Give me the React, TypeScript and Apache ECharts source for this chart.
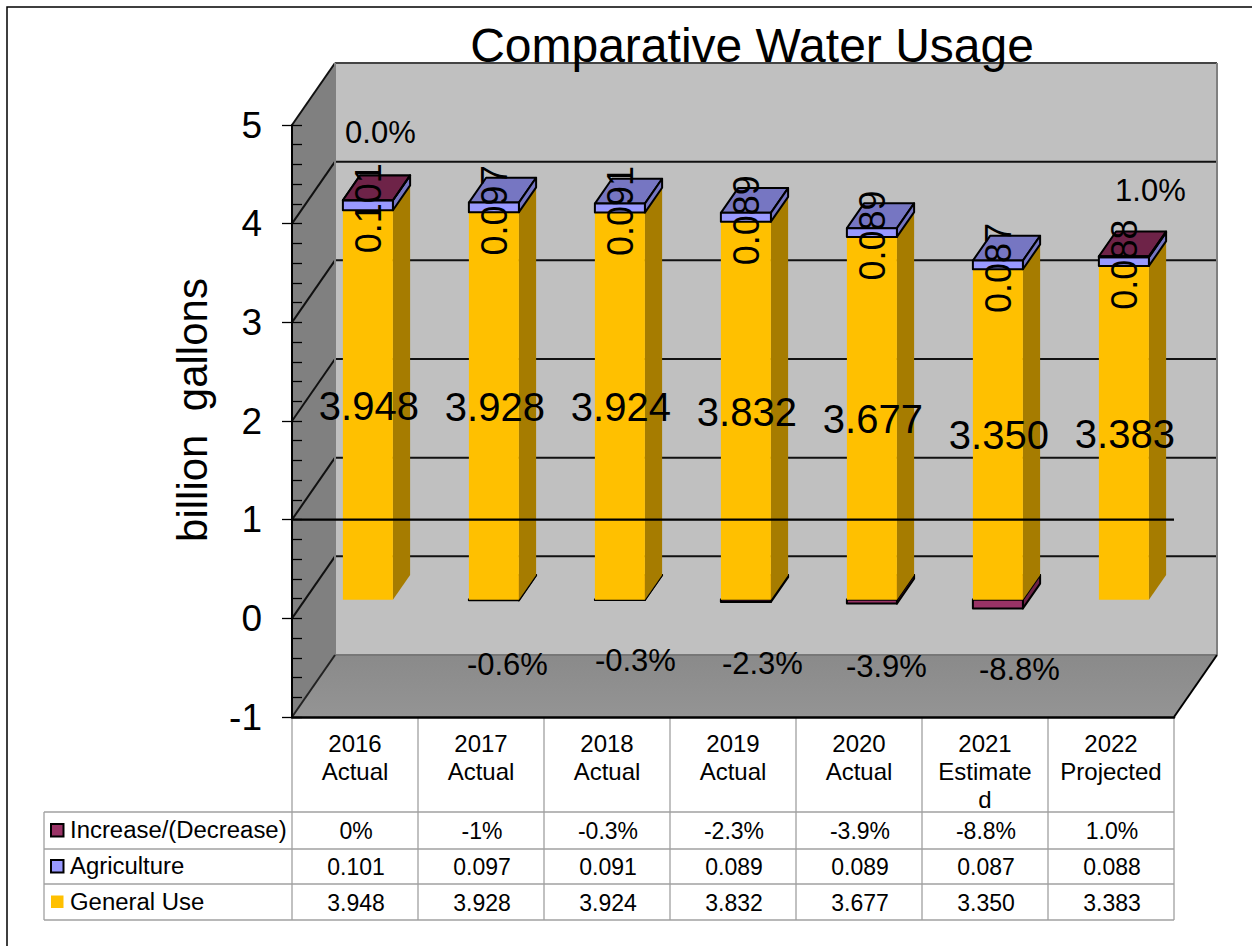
import React, { useEffect, useRef } from "react";
import * as echarts from "echarts";

const chartTitle = "Comparative Water Usage";
const yAxisName = "billion  gallons";
const categories = ["2016\nActual", "2017\nActual", "2018\nActual", "2019\nActual", "2020\nActual", "2021\nEstimate\nd", "2022\nProjected"];
const seriesNames = ["Increase/(Decrease)", "Agriculture", "General Use"];
const generalUse = [3.948, 3.928, 3.924, 3.832, 3.677, 3.35, 3.383];
const agriculture = [0.101, 0.097, 0.091, 0.089, 0.089, 0.087, 0.088];
const changeValues = [0, -0.006, -0.003, -0.023, -0.039, -0.088, 0.01];
const changeTableLabels = ["0%", "-1%", "-0.3%", "-2.3%", "-3.9%", "-8.8%", "1.0%"];
const changeChartLabels = ["0.0%", "-0.6%", "-0.3%", "-2.3%", "-3.9%", "-8.8%", "1.0%"];
const yTicks = [-1, 0, 1, 2, 3, 4, 5];

// layout (not data)
const GRID = { left: 292, right: 78, top: 125, bottom: 229 };
const DX = 43;
const DY = 62;
const FRONT = 0.3;
const BACK = 0.7;
const BAR_RATIO = 0.397;
const changeLabelY = [4.92, -0.47, -0.43, -0.46, -0.49, -0.52, 4.34];
const changeLabelDx = [12.5, 13.5, 15.5, 16.5, 14.5, 21.5, 26.5];
const FONT = "Liberation Sans, Arial, sans-serif";
const tableRows = [812, 849, 884, 920];
const tableLeft = 44;
const tableRight = 1174;

const MAROON = "#993366";
const MAROON_DARK = "#6e2348";
const BLUE = "#9999ff";
const BLUE_DARK = "#7676c2";
const YELLOW = "#ffc000";
const YELLOW_DARK = "#a67c00";

const poly = (points: number[][], fill: any, stroke?: string, lineWidth = 2) => ({
  type: "polygon",
  shape: { points },
  style: { fill, stroke: stroke || "none", lineWidth, lineJoin: "round" },
  silent: true,
});
const seg = (x1: number, y1: number, x2: number, y2: number, stroke: string, lineWidth = 2) => ({
  type: "line",
  shape: { x1, y1, x2, y2 },
  style: { stroke, lineWidth },
  silent: true,
});
const txt = (text: string, x: number, y: number, fontSize: number, rotation = 0, align = "center") => ({
  type: "text",
  x,
  y,
  rotation,
  silent: true,
  style: { text, fill: "#000", fontSize, fontFamily: FONT, align, verticalAlign: "middle" },
});

const renderWalls = (_: any, api: any) => {
  const left = api.coord([0, 0])[0] - api.size([1, 0])[0] / 2;
  const right = left + api.size([1, 0])[0] * categories.length;
  const y = (v: number) => api.coord([0, v])[1];
  const children: any[] = [
    poly([[left + DX, y(5) - DY], [right + DX, y(5) - DY], [right + DX, y(-1) - DY], [left + DX, y(-1) - DY]], "#c0c0c0"),
    poly([[left, y(5)], [left + DX, y(5) - DY], [left + DX, y(-1) - DY], [left, y(-1)]], "#808080"),
    poly([[left, y(-1)], [left + DX, y(-1) - DY], [right + DX, y(-1) - DY], [right, y(-1)]],
      new echarts.graphic.LinearGradient(0, 0, 0, 1, [{ offset: 0, color: "#8a8a8a" }, { offset: 1, color: "#949494" }])),
  ];
  yTicks.forEach((v) => {
    if (v > -1) {
      children.push(seg(left + DX, y(v) - DY, right + DX, y(v) - DY, v === 5 ? "#444" : "#111"));
      children.push(seg(left, y(v), left + DX, y(v) - DY, "#111"));
    }
  });
  children.push(seg(left + DX, y(5) - DY, left + DX, y(-1) - DY, "#808080"));
  children.push(seg(right + DX, y(5) - DY, right + DX, y(-1) - DY, "#808080", 2));
  children.push(seg(left + DX, y(-1) - DY, right + DX, y(-1) - DY, "#777"));
  children.push(seg(left, y(-1), left + DX, y(-1) - DY, "#222"));
  children.push(seg(right, y(-1), right + DX, y(-1) - DY, "#000", 2));
  return { type: "group", children };
};

const renderBar = (_: any, api: any) => {
  const i = api.value(0);
  const gen = api.value(1);
  const agr = api.value(2);
  const chg = api.value(3);
  const band = api.size([1, 0])[0];
  const w = band * BAR_RATIO;
  const cx = api.coord([i, 0])[0];
  const x0 = cx - w / 2 + DX * FRONT;
  const x1 = x0 + w;
  const sx = DX * (BACK - FRONT);
  const sy = DY * (BACK - FRONT);
  const y = (v: number) => api.coord([i, v])[1] - DY * FRONT;
  const box = (lo: number, hi: number, front: string, side: string, top: string, stroke?: string) => [
    poly([[x0, y(hi)], [x0 + sx, y(hi) - sy], [x1 + sx, y(hi) - sy], [x1, y(hi)]], top, stroke),
    poly([[x1, y(hi)], [x1 + sx, y(hi) - sy], [x1 + sx, y(lo) - sy], [x1, y(lo)]], side, stroke),
    poly([[x0, y(hi)], [x1, y(hi)], [x1, y(lo)], [x0, y(lo)]], front, stroke),
  ];
  const children: any[] = [];
  if (chg < 0) children.push(...box(chg, 0, MAROON, MAROON_DARK, MAROON_DARK, "#000"));
  children.push(...box(0, gen, YELLOW, YELLOW_DARK, YELLOW));
  children.push(...box(gen, gen + agr, BLUE, BLUE_DARK, BLUE_DARK, "#000"));
  if (chg >= 0) children.push(...box(gen + agr, gen + agr + chg, MAROON, BLUE_DARK, MAROON_DARK, "#000"));
  return { type: "group", children };
};

const renderCrossLine = (_: any, api: any) => {
  const v = api.value(0);
  const left = api.coord([0, v])[0] - api.size([1, 0])[0] / 2;
  const right = left + api.size([1, 0])[0] * categories.length;
  const yy = api.coord([0, v])[1];
  return seg(left, yy, right, yy, "#000", 2.2);
};

const renderLabels = (_: any, api: any) => {
  const i = api.value(0);
  const gen = api.value(1);
  const agr = api.value(2);
  const cx = api.coord([i, 0])[0] + DX * FRONT;
  const y = (v: number) => api.coord([i, v])[1] - DY * FRONT;
  const pct = api.coord([i, changeLabelY[i]]);
  return {
    type: "group",
    children: [
      txt(gen.toFixed(3), cx + 1, y(gen / 2) + 1, 40),
      txt(agr.toFixed(3), cx + 1, y(gen + agr / 2) + 3, 36, Math.PI / 2),
      txt(changeChartLabels[i], pct[0] + DX * FRONT + changeLabelDx[i], pct[1], 31),
    ],
  };
};

const renderTableCells = (_: any, api: any) => {
  const i = api.value(0);
  const cx = api.coord([i, 0])[0];
  const mid = (r: number) => (tableRows[r] + tableRows[r + 1]) / 2 + 0.5;
  return {
    type: "group",
    children: [
      txt(changeTableLabels[i], cx + 1, mid(0), 23),
      txt(agriculture[i].toFixed(3), cx + 1, mid(1), 23),
      txt(generalUse[i].toFixed(3), cx + 1, mid(2), 23),
    ],
  };
};

const buildTableGraphic = () => {
  const band = (tableRight - GRID.left) / categories.length;
  const els: any[] = [];
  const line = { stroke: "#a0a0a0", lineWidth: 1.3 };
  tableRows.forEach((y) => els.push({ type: "line", shape: { x1: tableLeft, y1: y, x2: tableRight, y2: y }, style: line, silent: true }));
  for (let c = 0; c <= categories.length; c++) {
    const x = GRID.left + band * c;
    els.push({ type: "line", shape: { x1: x, y1: 717, x2: x, y2: tableRows[3] }, style: line, silent: true });
  }
  els.push({ type: "line", shape: { x1: tableLeft, y1: tableRows[0], x2: tableLeft, y2: tableRows[3] }, style: line, silent: true });
  const keys = [MAROON, BLUE, YELLOW];
  seriesNames.forEach((name, r) => {
    const mid = (tableRows[r] + tableRows[r + 1]) / 2;
    els.push({
      type: "rect",
      shape: { x: 51, y: mid - 6.5, width: 12.5, height: 12.5 },
      style: { fill: keys[r], stroke: r < 2 ? "#000" : "none", lineWidth: 2 },
      silent: true,
    });
    els.push({ type: "text", x: 70, y: mid, scaleX: 1.04, silent: true, style: { text: name, fill: "#000", fontSize: 23, fontFamily: FONT, align: "left", verticalAlign: "middle" } });
  });
  els.push({ type: "polyline", shape: { points: [[7, 946], [7, 7], [1252, 7]] }, style: { stroke: "#000", lineWidth: 1.5, fill: "none" }, silent: true });
  return els;
};

export default function App() {
  const ref = useRef<HTMLDivElement>(null);
  useEffect(() => {
    const chart = echarts.init(ref.current!, undefined, { renderer: "svg" });
    const rows = categories.map((_, i) => [i, generalUse[i], agriculture[i], changeValues[i]]);
    const yCommon = { type: "value", min: -1, max: 5, interval: 1, z: 10, splitLine: { show: false } };
    chart.setOption({
      animation: false,
      backgroundColor: "#fff",
      title: {
        text: chartTitle,
        left: 747,
        top: 16,
        textAlign: "center",
        textStyle: { fontSize: 48, fontWeight: "normal", color: "#000", fontFamily: FONT },
      },
      grid: { left: GRID.left, right: GRID.right, top: GRID.top, bottom: GRID.bottom },
      xAxis: {
        type: "category",
        data: categories,
        z: 10,
        axisLine: { show: true, onZero: false, lineStyle: { color: "#000", width: 2.5 } },
        axisTick: { show: false },
        splitLine: { show: false },
        axisLabel: { interval: 0, color: "#000", fontSize: 24, lineHeight: 28, margin: 12, fontFamily: FONT, hideOverlap: false },
      },
      yAxis: [
        {
          ...yCommon,
          name: yAxisName,
          nameLocation: "middle",
          nameGap: 79,
          nameRotate: 90,
          nameTextStyle: { fontSize: 42, color: "#000", fontFamily: FONT, padding: [0, 0, 0, 22] },
          axisLine: { show: true, onZero: false, lineStyle: { color: "#000", width: 2 } },
          axisTick: { show: true, inside: true, length: 10, lineStyle: { color: "#000", width: 1.3 } },
          minorTick: { show: true, splitNumber: 5, length: 10, lineStyle: { color: "#000", width: 1.3 } },
          axisLabel: { color: "#000", fontSize: 37, margin: 30, fontFamily: FONT },
        },
        {
          ...yCommon,
          position: "left",
          axisLine: { show: false },
          axisTick: { show: true, inside: false, length: 10, lineStyle: { color: "#000", width: 1.3 } },
          axisLabel: { show: false },
        },
      ],
      graphic: buildTableGraphic(),
      series: [
        { type: "custom", name: "walls", silent: true, clip: false, z: 1, data: [[0]], encode: { x: 0 }, renderItem: renderWalls },
        { type: "custom", name: "bars", silent: true, clip: false, z: 2, data: rows, encode: { x: 0, y: 1 }, renderItem: renderBar },
        { type: "custom", name: "axisCrossing", silent: true, clip: false, z: 3, data: [[1]], renderItem: renderCrossLine },
        { type: "custom", name: "labels", silent: true, clip: false, z: 4, data: rows, encode: { x: 0, y: 1 }, renderItem: renderLabels },
        { type: "custom", name: "tableCells", silent: true, clip: false, z: 4, data: rows, encode: { x: 0 }, renderItem: renderTableCells },
      ],
    });
    return () => chart.dispose();
  }, []);
  return <div ref={ref} style={{ position: "absolute", left: 0, top: 0, width: 1252, height: 946 }} />;
}
